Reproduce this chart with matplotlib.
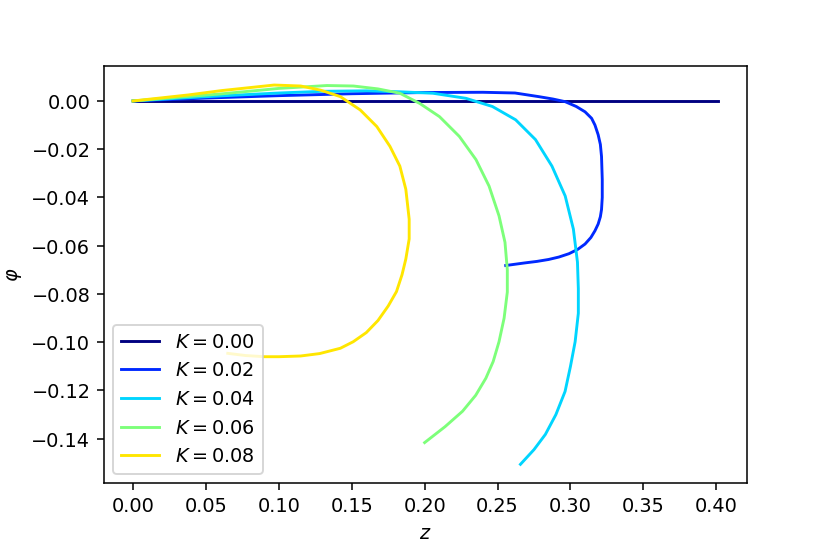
import numpy as np
import matplotlib
matplotlib.use("Agg")
import matplotlib.pyplot as plt

# K values and curves (z, phi)
K_VALUES = [0.00, 0.02, 0.04, 0.06, 0.08]

z_k0 = [0.0, 0.10, 0.20, 0.30, 0.401]
phi_k0 = [0.0, 0.0, 0.0, 0.0, 0.0]

z_k1 = [0.0, 0.05, 0.10, 0.15, 0.20, 0.24, 0.262, 0.2782, 0.288, 0.2964, 0.304, 0.310,
        0.3145, 0.3168, 0.319, 0.3205, 0.3213, 0.3218, 0.3218, 0.3213, 0.3205, 0.3190,
        0.3168, 0.3140, 0.3100, 0.3050, 0.2990, 0.292, 0.285, 0.277, 0.269, 0.2556]
phi_k1 = [0.0, 0.0012, 0.0022, 0.0030, 0.0035, 0.0036, 0.0033, 0.0018, 0.0008, -0.0003,
          -0.0023, -0.0045, -0.0072, -0.0100, -0.0140, -0.0180, -0.0230, -0.0325, -0.0400,
          -0.0450, -0.0480, -0.0510, -0.0538, -0.0566, -0.0593, -0.0615, -0.0633, -0.0647,
          -0.0657, -0.0665, -0.0671, -0.0682]

z_k2 = [0.0, 0.03, 0.06, 0.10, 0.13, 0.16, 0.183, 0.2057, 0.2283, 0.2465, 0.2624, 0.276,
        0.2873, 0.2964, 0.302, 0.3048, 0.3054, 0.3054, 0.3032, 0.300, 0.2963, 0.290, 0.2828,
        0.275, 0.2657]
phi_k2 = [0.0, 0.0011, 0.0021, 0.0033, 0.0040, 0.0042, 0.0038, 0.0032, 0.0011, -0.0023,
          -0.0078, -0.016, -0.027, -0.0394, -0.0531, -0.0668, -0.0778, -0.088, -0.0998,
          -0.110, -0.1204, -0.130, -0.1382, -0.1445, -0.1506]

z_k3 = [0.0, 0.03, 0.06, 0.10, 0.133, 0.1512, 0.168, 0.183, 0.1966, 0.2102, 0.2238, 0.2352,
        0.2442, 0.251, 0.2551, 0.2567, 0.2567, 0.2545, 0.251, 0.247, 0.242, 0.235, 0.226,
        0.214, 0.200]
phi_k3 = [0.0, 0.0015, 0.0029, 0.0052, 0.0064, 0.0062, 0.0050, 0.0032, -0.001, -0.0065,
          -0.0147, -0.0243, -0.0353, -0.0476, -0.0586, -0.0700, -0.0792, -0.090, -0.0998,
          -0.108, -0.1149, -0.122, -0.1286, -0.135, -0.1416]

z_k4 = [0.0, 0.038, 0.0607, 0.0968, 0.115, 0.1286, 0.1422, 0.1558, 0.1672, 0.1762, 0.183,
        0.1871, 0.1894, 0.1894, 0.1871, 0.1845, 0.1807, 0.1750, 0.1680, 0.1600, 0.1510, 0.1422,
        0.128, 0.115, 0.100, 0.090, 0.077, 0.065]
phi_k4 = [0.0, 0.0025, 0.0043, 0.0066, 0.0062, 0.0045, 0.0018, -0.0037, -0.0106, -0.0188,
          -0.027, -0.0366, -0.049, -0.0572, -0.0655, -0.0720, -0.0790, -0.0850, -0.0910,
          -0.0960, -0.0998, -0.1025, -0.1047, -0.1057, -0.106, -0.106, -0.1055, -0.1046]

curves = [(z_k0, phi_k0), (z_k1, phi_k1), (z_k2, phi_k2), (z_k3, phi_k3), (z_k4, phi_k4)]
colors = plt.cm.jet(np.linspace(0, 1, 7))[:5]

fig = plt.figure(figsize=(6, 4), dpi=138.33)
ax = fig.add_subplot(111)
fig.subplots_adjust(left=0.125, right=0.9, top=0.88, bottom=0.126)

for (z, phi), k, c in zip(curves, K_VALUES, colors):
    ax.plot(z, phi, color=c, label=f'$K = {k:.2f}$')

ax.set_xlabel('$z$')
ax.set_ylabel(r'$\varphi$')
ax.legend(loc='lower left')

fig.savefig('out.png', dpi=138.33)
